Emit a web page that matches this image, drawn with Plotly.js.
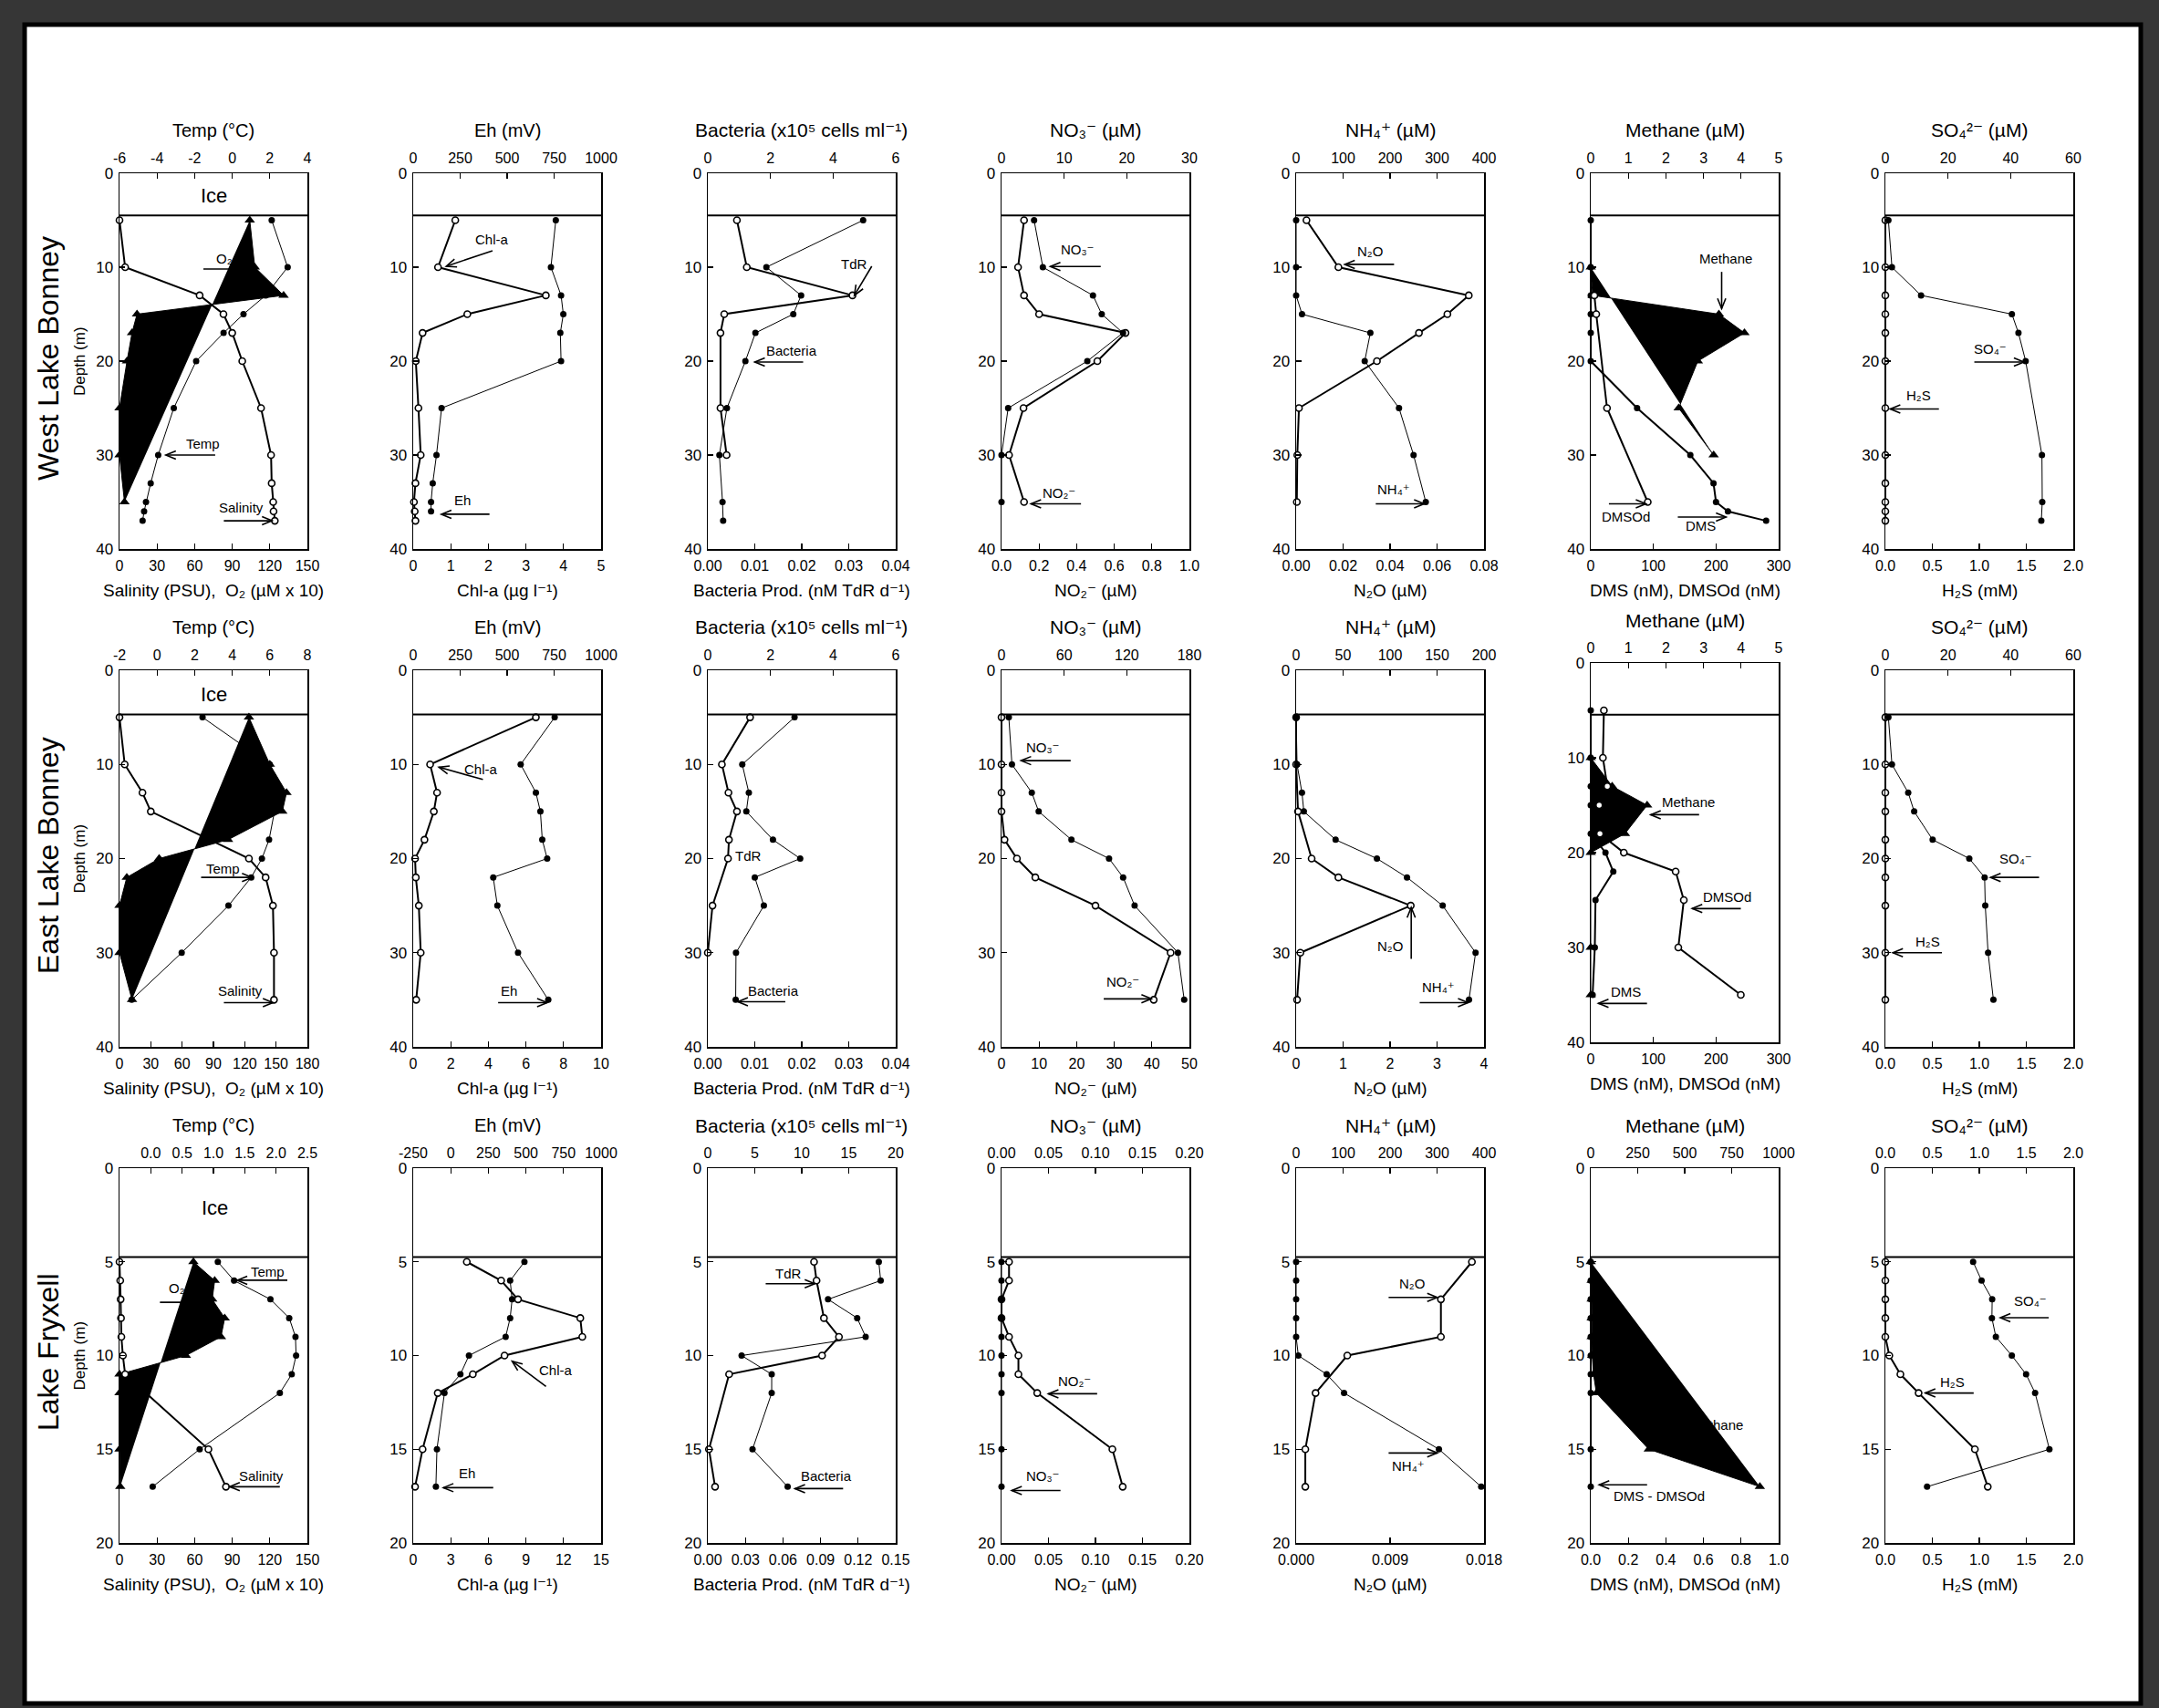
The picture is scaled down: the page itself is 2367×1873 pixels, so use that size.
<!DOCTYPE html>
<html><head><meta charset="utf-8">
<script src="https://cdn.plot.ly/plotly-3.0.1.min.js"></script>
<style>html,body{margin:0;padding:0;background:#363636;}</style>
</head><body>
<div id="chart" style="width:2367px;height:1873px"></div>
<script>
// ---------------- DATA ----------------
// West Lake Bonney
const wlbDepth = [5,10,13,15,17,20,25,30,33,35,36,37];
const wlbSalinity = [0,4.5,64,83,90,98,113,121,121.5,122.7,123,124];
const wlbTemp = [2.1,2.95,1.78,0.6,-0.46,-1.92,-3.11,-3.94,-4.34,-4.59,-4.69,-4.77];
const wlbO2Depth = [5,10,13,15,17,20,25,30,35];
const wlbO2 = [104,108,131,14,10,6,0,0,4];
const wlbChl = [1.12,0.66,3.53,1.44,0.25,0.07,0.14,0.2,0.06,0.02,0.04,0.06];
const wlbEhDepth = [5,10,13,15,17,20,25,30,33,35,36];
const wlbEh = [759,733,787,799,783,787,151,124,104,95,95];
const wlbBactDepth = [5,10,13,15,17,20,25,30,35,37];
const wlbBact = [4.96,1.87,2.98,2.73,1.52,1.2,0.61,0.37,0.47,0.49];
const wlbTdrDepth = [5,10,13,15,17,25,30];
const wlbTdr = [0.0062,0.0083,0.0308,0.0035,0.0027,0.0027,0.004];
const wlbNDepth = [5,10,13,15,17,20,25,30,35];
const wlbNO3 = [5.2,6.6,14.6,16.0,19.4,13.7,1.06,0,0];
const wlbNO2 = [0.12,0.088,0.12,0.2,0.66,0.51,0.117,0.04,0.12];
const wlbNH4 = [0,0,0,12.5,158,146,219,250,276];
const wlbN2O = [0.0044,0.018,0.0735,0.0644,0.0523,0.0344,0.0012,0.0005,0.0003];
const wlbDMS = [0,0,0,0,0,0,74,159,196,200,219,280];
const wlbDMSOdDepth = [13,15,25,35];
const wlbDMSOd = [5.8,8.8,26,91];
const wlbMethDepth = [10,13,15,17,20,25,30];
const wlbMeth = [0,0.05,3.41,4.09,2.85,2.34,3.27];
const wlbH2S = [0,0,0,0,0,0,0,0,0,0,0,0];
const wlbSO4Depth = [5,10,13,15,17,20,30,35,37];
const wlbSO4 = [0.97,2.1,11.4,40.4,42.5,44.8,50,50.1,49.8];

// East Lake Bonney
const elbDepth = [5,10,13,15,18,20,22,25,30,35];
const elbSalDepth = [5,10,13,15,20,22,25,30,35];
const elbSalinity = [0,5,22,30,124,140,147,148,148];
const elbTemp = [2.42,6.0,6.3,6.25,5.96,5.58,5.01,3.8,1.31,-1.35];
const elbO2 = [124,144,160,156,104,38,7,0,0,12];
const elbChl = [6.53,0.9,1.27,1.1,0.6,0.1,0.14,0.3,0.4,0.16];
const elbEh = [753,572,653,677,687,713,426,448,558,719];
const elbBact = [2.77,1.1,1.31,1.23,2.08,2.95,1.5,1.79,0.9,0.89];
const elbTdrDepth = [5,10,13,15,18,20,25,30];
const elbTdr = [0.009,0.003,0.0044,0.0062,0.0045,0.0043,0.001,0];
const elbNO3 = [7,10,29,35.6,67,103,116.5,127.5,169,175];
const elbNO2 = [0,0,0,0,0.8,4.1,9,25,45,40.5];
const elbNH4 = [0,1,6.2,8.2,42,86,118,156,191,184];
const elbN2ODepth = [5,10,15,20,22,25,30,35];
const elbN2O = [0,0,0.04,0.33,0.9,2.44,0.09,0.02];
const elbDMS = [0,0,0,0,0,23.5,36,7.6,6.5,3];
const elbDMSOd = [21,19.4,26.4,13.5,14.7,52.8,135.6,148.6,139.8,239.6];
const elbMethDepth = [10,13,15,18,20,30,35];
const elbMeth = [0,0.57,1.5,0.91,0,0,0];
const elbH2S = [0,0,0,0,0,0,0,0,0,0];
const elbSO4 = [0.97,2.1,7.3,9.2,15.1,26.8,31.7,31.9,32.8,34.5];

// Lake Fryxell
const lfDepth = [5,6,7,8,9,10,11,12,15,17];
const lfSalDepth = [5,6,7,8,9,10,11,15,17];
const lfSalinity = [0,0.6,0.9,1.2,1.5,2.7,4.5,71,85];
const lfTemp = [1.07,1.33,1.91,2.21,2.31,2.32,2.25,2.06,0.78,0.03];
const lfO2 = [59,76,74,84,81,53,0,0,0,0.6];
const lfChl = [4.28,7.02,8.37,13.34,13.5,7.29,4.76,1.96,0.75,0.15];
const lfEh = [490,395,408,395,365,121,64,-42,-92,-99];
const lfBact = [18.2,18.4,12.8,15.9,16.8,3.6,6.8,6.8,4.76,8.5];
const lfTdrDepth = [5,6,8,9,10,11,15,17];
const lfTdr = [0.0848,0.0868,0.0927,0.1047,0.0912,0.017,0.0009,0.0058];
const lfNO2 = [0.008,0.008,0,0,0.008,0.018,0.018,0.038,0.118,0.129];
const lfNO3 = [0,0,0,0,0,0,0,0,0,0];
const lfNH4 = [0,0,0,0,0,4.7,65,102,304,394];
const lfN2ODepth = [5,7,9,10,12,15,17];
const lfN2O = [0.01684,0.01387,0.01387,0.0049,0.00186,0.00088,0.00088];
const lfDMS = [0,0,0,0,0,0,0,0,0,0];
const lfMeth = [0,5,5,5,5,8,15,30,309,900];
const lfH2S = [0,0,0,0,0,0.042,0.16,0.354,0.953,1.09];
const lfSO4 = [0.934,1.024,1.137,1.134,1.176,1.346,1.498,1.594,1.746,0.444];

// Tick values
const ticksDepth40 = [0,10,20,30,40];
const ticksDepth20 = [0,5,10,15,20];
const ticksSal150 = [0,30,60,90,120,150];
const ticksSal180 = [0,30,60,90,120,150,180];
const ticksTempW = [-6,-4,-2,0,2,4];
const ticksTempE = [-2,0,2,4,6,8];
const ticksTempF = [0,0.5,1,1.5,2,2.5];
const ticksEh = [0,250,500,750,1000];
const ticksEhF = [-250,0,250,500,750,1000];
const ticksChl5 = [0,1,2,3,4,5];
const ticksChl10 = [0,2,4,6,8,10];
const ticksChl15 = [0,3,6,9,12,15];
const ticksBact6 = [0,2,4,6];
const ticksBact20 = [0,5,10,15,20];
const ticksProd04 = [0,0.01,0.02,0.03,0.04];
const ticksProd15 = [0,0.03,0.06,0.09,0.12,0.15];
const ticksNO3W = [0,10,20,30];
const ticksNO2W = [0,0.2,0.4,0.6,0.8,1.0];
const ticksNO3E = [0,60,120,180];
const ticksNO2E = [0,10,20,30,40,50];
const ticksNF = [0,0.05,0.1,0.15,0.2];
const ticksNH4W = [0,100,200,300,400];
const ticksN2OW = [0,0.02,0.04,0.06,0.08];
const ticksNH4E = [0,50,100,150,200];
const ticksN2OE = [0,1,2,3,4];
const ticksN2OF = [0,0.009,0.018];
const ticksMeth5 = [0,1,2,3,4,5];
const ticksDMS300 = [0,100,200,300];
const ticksMethF = [0,250,500,750,1000];
const ticksDMS1 = [0,0.2,0.4,0.6,0.8,1.0];
const ticksSO4 = [0,20,40,60];
const ticksH2S = [0,0.5,1,1.5,2];

// ---------------- LAYOUT CONFIG ----------------
const W = 2367, H = 1873;
const FONT = 'Liberation Sans, Arial, Helvetica, DejaVu Sans, sans-serif';
const colLeft = [131, 453, 776, 1098, 1421, 1744, 2067];
const colWidth = 206;
const rowTop = [190, 735, 1281];
const rowBottom = [602, 1148, 1692];
const iceDepth = [4.5, 4.7, 4.75];
const rowNames = ['West Lake Bonney', 'East Lake Bonney', 'Lake Fryxell'];

const T_TEMP='Temp (°C)', T_EH='Eh (mV)', T_BACT='Bacteria (x10⁵ cells ml⁻¹)',
  T_NO3='NO₃⁻ (µM)', T_NH4='NH₄⁺ (µM)', T_METH='Methane (µM)', T_SO4='SO₄²⁻ (µM)';
const B_SAL='Salinity (PSU),  O₂ (µM x 10)', B_CHL='Chl-a (µg l⁻¹)',
  B_PROD='Bacteria Prod. (nM TdR d⁻¹)', B_NO2='NO₂⁻ (µM)',
  B_N2O='N₂O (µM)', B_DMS='DMS (nM), DMSOd (nM)', B_H2S='H₂S (mM)';
const L_O2='O₂', L_NO3='NO₃⁻', L_NO2='NO₂⁻', L_N2O='N₂O', L_NH4='NH₄⁺', L_SO4='SO₄⁻', L_H2S='H₂S';

const panels = [
 // ---- row 0: West Lake Bonney
 {r:0,c:0,bot:[0,150,ticksSal150,0],top:[-6,4,ticksTempW,0],tTop:T_TEMP,tBot:B_SAL,ice:[75,2.4],
  series:[['poly','b',wlbO2Depth,wlbO2],['open','b',wlbDepth,wlbSalinity],['filled','t',wlbDepth,wlbTemp]],
  texts:[[L_O2,84,9.1],['Temp',66.7,28.8],['Salinity',97,35.6]],
  arrows:[[67,10.2,100,10.2],[76.4,30.0,37,30.0],[83.3,37.0,121.8,37.0]]},
 {r:0,c:1,bot:[0,5,ticksChl5,0],top:[0,1000,ticksEh,0],tTop:T_EH,tBot:B_CHL,
  series:[['open','b',wlbDepth,wlbChl],['filled','t',wlbEhDepth,wlbEh]],
  texts:[['Chl-a',2.09,7.0],['Eh',1.31,34.8]],
  arrows:[[2.11,8.25,0.88,9.9],[2.03,36.3,0.75,36.3]]},
 {r:0,c:2,bot:[0,0.04,ticksProd04,2],top:[0,6,ticksBact6,0],tTop:T_BACT,tBot:B_PROD,
  series:[['open','b',wlbTdrDepth,wlbTdr],['filled','t',wlbBactDepth,wlbBact]],
  texts:[['TdR',0.0312,9.7],['Bacteria',0.0179,18.9]],
  arrows:[[0.0349,9.9,0.0312,13.0],[0.0203,20.1,0.0100,20.1]]},
 {r:0,c:3,bot:[0,1,ticksNO2W,1],top:[0,30,ticksNO3W,0],tTop:T_NO3,tBot:B_NO2,
  series:[['open','b',wlbNDepth,wlbNO2],['filled','t',wlbNDepth,wlbNO3]],
  texts:[[L_NO3,0.403,8.1],[L_NO2,0.305,34.0]],
  arrows:[[0.528,9.93,0.26,9.93],[0.423,35.2,0.157,35.2]]},
 {r:0,c:4,bot:[0,0.08,ticksN2OW,2],top:[0,400,ticksNH4W,0],tTop:T_NH4,tBot:B_N2O,
  series:[['open','b',wlbNDepth,wlbN2O],['filled','t',wlbNDepth,wlbNH4]],
  texts:[[L_N2O,0.0316,8.3],[L_NH4,0.0417,33.6]],
  arrows:[[0.0417,9.7,0.0207,9.7],[0.0339,35.2,0.0545,35.2]]},
 {r:0,c:5,baseTop:true,bot:[0,300,ticksDMS300,0],top:[0,5,ticksMeth5,0],tTop:T_METH,tBot:B_DMS,
  series:[['poly','t',wlbMethDepth,wlbMeth],['filledThick','b',wlbDepth,wlbDMS],['open','b',wlbDMSOdDepth,wlbDMSOd]],
  texts:[['Methane',216,9.1],['DMSOd',55.6,36.6],['DMS',175,37.5]],
  arrows:[[209,10.5,209,14.4],[29,35.2,88,35.2],[139,36.6,216,36.6]]},
 {r:0,c:6,bot:[0,2,ticksH2S,1],top:[0,60,ticksSO4,0],tTop:T_SO4,tBot:B_H2S,
  series:[['open','b',wlbDepth,wlbH2S],['filled','t',wlbSO4Depth,wlbSO4]],
  texts:[[L_SO4,1.12,18.7],[L_H2S,0.354,23.6]],
  arrows:[[0.947,20.1,1.475,20.1],[0.57,25.1,0.052,25.1]]},
 // ---- row 1: East Lake Bonney
 {r:1,c:0,bot:[0,180,ticksSal180,0],top:[-2,8,ticksTempE,0],tTop:T_TEMP,tBot:B_SAL,ice:[90,2.6],
  series:[['poly','b',elbDepth,elbO2],['open','b',elbSalDepth,elbSalinity],['filled','t',elbDepth,elbTemp]],
  texts:[['Temp',98.9,21.1],['Salinity',116,34.0]],
  arrows:[[78.2,22.0,127,22.0],[100,35.3,147,35.3]]},
 {r:1,c:1,bot:[0,10,ticksChl10,0],top:[0,1000,ticksEh,0],tTop:T_EH,tBot:B_CHL,
  series:[['open','b',elbDepth,elbChl],['filled','t',elbDepth,elbEh]],
  texts:[['Chl-a',3.61,10.5],['Eh',5.12,34.0]],
  arrows:[[3.71,11.6,1.37,10.3],[4.52,35.3,7.13,35.3]]},
 {r:1,c:2,bot:[0,0.04,ticksProd04,2],top:[0,6,ticksBact6,0],tTop:T_BACT,tBot:B_PROD,
  series:[['open','b',elbTdrDepth,elbTdr],['filled','t',elbDepth,elbBact]],
  texts:[['TdR',0.0086,19.7],['Bacteria',0.0139,34.0]],
  arrows:[[0.0165,35.2,0.0064,35.2]]},
 {r:1,c:3,bot:[0,50,ticksNO2E,0],top:[0,180,ticksNO3E,0],tTop:T_NO3,tBot:B_NO2,
  series:[['open','b',elbDepth,elbNO2],['filled','t',elbDepth,elbNO3]],
  texts:[[L_NO3,11.1,8.2],[L_NO2,32.3,33.1]],
  arrows:[[18.4,9.6,5.2,9.6],[27.2,34.9,39.9,34.9]]},
 {r:1,c:4,bot:[0,4,ticksN2OE,0],top:[0,200,ticksNH4E,0],tTop:T_NH4,tBot:B_N2O,
  series:[['open','b',elbN2ODepth,elbN2O],['filled','t',elbDepth,elbNH4]],
  texts:[[L_N2O,2.0,29.3],[L_NH4,3.03,33.7]],
  arrows:[[2.45,30.65,2.45,25.2],[2.63,35.3,3.66,35.3]]},
 {r:1,c:5,baseTop:true,shift:[-8,-5],iceOverride:5.45,bot:[0,300,ticksDMS300,0],top:[0,5,ticksMeth5,0],tTop:T_METH,tBot:B_DMS,
  series:[['poly','t',elbMethDepth,elbMeth],['filledThick','b',elbDepth,elbDMS],['open','b',elbDepth,elbDMSOd]],
  texts:[['Methane',155.6,14.7],['DMSOd',217,24.7],['DMS',55.8,34.7]],
  arrows:[[173,16.0,95.7,16.0],[239.6,25.9,162,25.9],[89.8,35.9,12.3,35.9]]},
 {r:1,c:6,bot:[0,2,ticksH2S,1],top:[0,60,ticksSO4,0],tTop:T_SO4,tBot:B_H2S,
  series:[['open','b',elbDepth,elbH2S],['filled','t',elbDepth,elbSO4]],
  texts:[[L_SO4,1.385,20.0],[L_H2S,0.45,28.8]],
  arrows:[[1.636,22.0,1.12,22.0],[0.602,30.0,0.08,30.0]]},
 // ---- row 2: Lake Fryxell
 {r:2,c:0,bot:[0,150,ticksSal150,0],top:[-0.5,2.5,ticksTempF,1],tTop:T_TEMP,tBot:B_SAL,ice:[76,2.14],
  series:[['poly','b',lfDepth,lfO2],['open','b',lfSalDepth,lfSalinity],['filled','t',lfDepth,lfTemp]],
  texts:[[L_O2,45.9,6.4],['Temp',118,5.5],['Salinity',113,16.4]],
  arrows:[[32.3,7.16,58,7.16],[134,5.98,94,5.98],[128,17.0,88,17.0]]},
 {r:2,c:1,bot:[0,15,ticksChl15,0],top:[-250,1000,ticksEhF,0],tTop:T_EH,tBot:B_CHL,
  series:[['open','b',lfDepth,lfChl],['filled','t',lfDepth,lfEh]],
  texts:[['Chl-a',11.36,10.8],['Eh',4.28,16.3]],
  arrows:[[10.6,11.65,7.9,10.3],[6.39,17.05,2.41,17.05]]},
 {r:2,c:2,bot:[0,0.15,ticksProd15,2],top:[0,20,ticksBact20,0],tTop:T_BACT,tBot:B_PROD,
  series:[['open','b',lfTdrDepth,lfTdr],['filled','t',lfDepth,lfBact]],
  texts:[['TdR',0.0643,5.6],['Bacteria',0.0944,16.4]],
  arrows:[[0.0462,6.17,0.0854,6.17],[0.108,17.1,0.0696,17.1]]},
 {r:2,c:3,bot:[0,0.2,ticksNF,2],top:[0,0.2,ticksNF,2],tTop:T_NO3,tBot:B_NO2,
  series:[['open','b',lfDepth,lfNO2],['filled','t',lfDepth,lfNO3]],
  texts:[[L_NO2,0.0772,11.35],[L_NO3,0.044,16.4]],
  arrows:[[0.1018,12.04,0.0499,12.04],[0.0628,17.2,0.0109,17.2]]},
 {r:2,c:4,bot:[0,0.018,ticksN2OF,3],top:[0,400,ticksNH4W,0],tTop:T_NH4,tBot:B_N2O,
  series:[['open','b',lfN2ODepth,lfN2O],['filled','t',lfDepth,lfNH4]],
  texts:[[L_N2O,0.01114,6.17],[L_NH4,0.01079,15.9]],
  arrows:[[0.00886,6.9,0.01352,6.9],[0.00886,15.2,0.01352,15.2]]},
 {r:2,c:5,baseTop:true,bot:[0,1,ticksDMS1,1],top:[0,1000,ticksMethF,0],tTop:T_METH,tBot:B_DMS,
  series:[['poly','t',lfDepth,lfMeth],['filledThick','b',lfDepth,lfDMS]],
  texts:[['Methane',0.67,13.7],['DMS - DMSOd',0.362,17.5]],
  arrows:[[0.3,16.9,0.045,16.9]]},
 {r:2,c:6,bot:[0,2,ticksH2S,1],top:[0,2,ticksH2S,1],tTop:T_SO4,tBot:B_H2S,
  series:[['open','b',lfDepth,lfH2S],['filled','t',lfDepth,lfSO4]],
  texts:[[L_SO4,1.546,7.1],[L_H2S,0.709,11.4]],
  arrows:[[1.739,7.98,1.224,7.98],[0.94,12.0,0.425,12.0]]}
];

// ---------------- BUILD ----------------
function styleFor(kind){
  if(kind==='open') return {mode:'lines+markers', line:{color:'black',width:2},
    marker:{symbol:'circle',size:7,color:'white',line:{color:'black',width:1.6}}};
  if(kind==='filled') return {mode:'lines+markers', line:{color:'black',width:1},
    marker:{symbol:'circle',size:7,color:'black'}};
  if(kind==='filledThick') return {mode:'lines+markers', line:{color:'black',width:2},
    marker:{symbol:'circle',size:7,color:'black'}};
  return {mode:'lines+markers', fill:'toself', fillcolor:'black', line:{color:'black',width:1},
    marker:{symbol:'triangle-up',size:10,color:'black'}};
}
const sfx = n => (n===1 ? '' : String(n));
const ticks = (vals,d) => ({tickvals: vals, ticktext: vals.map(v => v.toFixed(d))});
const f8 = v => v.toFixed(8);

const traces = [];
const layout = {
  width: W, height: H, margin:{l:0,r:0,t:0,b:0},
  paper_bgcolor:'#363636', plot_bgcolor:'white', showlegend:false,
  font:{family:FONT, color:'black', size:16},
  shapes:[{type:'rect', xref:'paper', yref:'paper', layer:'below',
    x0:27/W, x1:2347/W, y0:1-1868/H, y1:1-27/H, fillcolor:'white', line:{color:'black', width:5}}],
  annotations:[]
};

panels.forEach((p, i) => {
  const yN = i+1, baseN = 2*i+1, ovN = 2*i+2;
  const botN = p.baseTop ? ovN : baseN, topN = p.baseTop ? baseN : ovN;
  const sh = p.shift || [0,0];
  const top = rowTop[p.r] + sh[0], bottom = rowBottom[p.r] + sh[1];
  const left = colLeft[p.c], right = left + colWidth;
  const depthMax = p.r === 2 ? 20 : 40;
  const dTicks = p.r === 2 ? ticksDepth20 : ticksDepth40;
  const axCommon = {showline:true, linecolor:'black', linewidth:1.5, ticks:'inside', ticklen:6,
    tickwidth:1.2, tickcolor:'black', showgrid:false, zeroline:false, tickfont:{size:16, family:FONT},
    ticklabelstandoff:3};
  layout['yaxis'+sfx(yN)] = Object.assign({}, axCommon, {
    domain:[1-bottom/H, 1-top/H], range:[depthMax,0], anchor:'x'+sfx(baseN), mirror:true,
    tickfont:{size:17, family:FONT}, ticklabelstandoff:2}, ticks(dTicks,0));
  const bAx = Object.assign({}, axCommon, {range:[p.bot[0],p.bot[1]], side:'bottom', anchor:'y'+sfx(yN)}, ticks(p.bot[2],p.bot[3]));
  const tAx = Object.assign({}, axCommon, {range:[p.top[0],p.top[1]], side:'top', anchor:'y'+sfx(yN)}, ticks(p.top[2],p.top[3]));
  const dom = [left/W, right/W];
  if(p.baseTop){ tAx.domain = dom; bAx.domain = dom; bAx.overlaying = 'x'+sfx(baseN); }
  else { bAx.domain = dom; tAx.domain = dom; tAx.overlaying = 'x'+sfx(baseN); }
  layout['xaxis'+sfx(botN)] = bAx;
  layout['xaxis'+sfx(topN)] = tAx;

  const xb = 'x'+sfx(botN), xt = 'x'+sfx(topN), yy = 'y'+sfx(yN);
  p.series.forEach(s => {
    const st = styleFor(s[0]);
    traces.push(Object.assign(st, {x:s[3], y:s[2], xaxis: s[1]==='b' ? xb : xt, yaxis: yy,
      cliponaxis:false, hoverinfo:'skip'}));
  });

  // ice line
  const ice = p.iceOverride || iceDepth[p.r];
  layout.shapes.push({type:'line', xref:'x'+sfx(baseN)+' domain', yref:yy, x0:0, x1:1, y0:ice, y1:ice,
    line:{color:'black', width:2}});
  if(p.ice) layout.annotations.push({xref:xb, yref:yy, x:p.ice[0], y:p.ice[1], text:'Ice',
    showarrow:false, font:{size:22, family:FONT}});

  // titles
  const cx = (left+right)/2/W;
  const ts = p.c <= 1 ? 20 : 21;
  layout.annotations.push({xref:'paper', yref:'paper', x:cx, y:1-(top-47)/H, text:p.tTop,
    showarrow:false, font:{size:ts, family:FONT}, xanchor:'center', yanchor:'middle'});
  layout.annotations.push({xref:'paper', yref:'paper', x:cx, y:1-(bottom+45)/H, text:p.tBot,
    showarrow:false, font:{size:19, family:FONT}, xanchor:'center', yanchor:'middle'});

  // labels
  p.texts.forEach(t => layout.annotations.push({xref:xb, yref:yy, x:t[1], y:t[2], text:t[0],
    showarrow:false, font:{size:15, family:FONT}}));

  // arrows drawn as shapes (shaft + open chevron head), geometry in pixel space
  const sx = colWidth/(p.bot[1]-p.bot[0]), sy = (bottom-top)/depthMax;
  const HL = 11, HW = 4.5;
  p.arrows.forEach(a => {
    const X0 = (a[0]-p.bot[0])*sx, Y0 = a[1]*sy, X1 = (a[2]-p.bot[0])*sx, Y1 = a[3]*sy;
    const len = Math.hypot(X1-X0, Y1-Y0), dx = (X1-X0)/len, dy = (Y1-Y0)/len;
    const nx = -dy, ny = dx;
    const toD = (X,Y) => [p.bot[0] + X/sx, Y/sy];
    const b1 = toD(X1 - HL*dx + HW*nx, Y1 - HL*dy + HW*ny);
    const b2 = toD(X1 - HL*dx - HW*nx, Y1 - HL*dy - HW*ny);
    layout.shapes.push({type:'line', xref:xb, yref:yy, x0:a[0], y0:a[1], x1:a[2], y1:a[3],
      line:{color:'black', width:1.6}});
    layout.shapes.push({type:'path', xref:xb, yref:yy,
      path:`M ${f8(b1[0])},${f8(b1[1])} L ${f8(a[2])},${f8(a[3])} L ${f8(b2[0])},${f8(b2[1])}`,
      line:{color:'black', width:1.6}});
  });
});

// row labels and depth labels
const rowCenters = [393, 938, 1483];
rowNames.forEach((nm, r) => {
  layout.annotations.push({xref:'paper', yref:'paper', x:53/W, y:1-rowCenters[r]/H, text:nm,
    textangle:-90, showarrow:false, font:{size:32, family:FONT}, xanchor:'center', yanchor:'middle'});
  layout.annotations.push({xref:'paper', yref:'paper', x:87/W, y:1-(rowTop[r]+rowBottom[r])/2/H, text:'Depth (m)',
    textangle:-90, showarrow:false, font:{size:17, family:FONT}, xanchor:'center', yanchor:'middle'});
});

Plotly.newPlot('chart', traces, layout, {displayModeBar:false, staticPlot:true});
</script>
</body></html>
